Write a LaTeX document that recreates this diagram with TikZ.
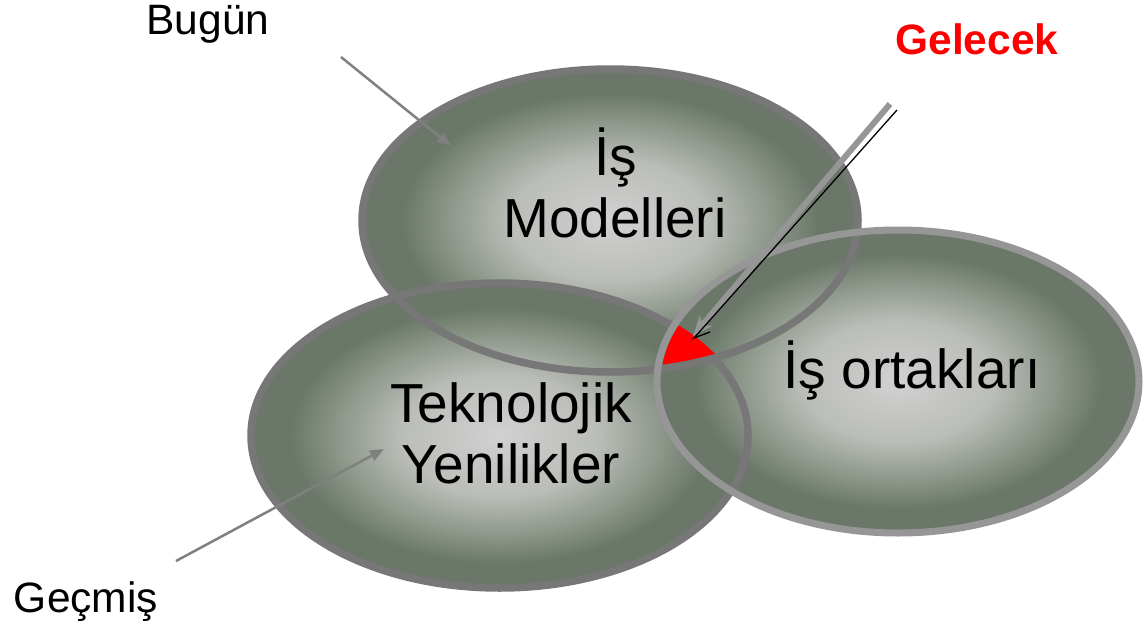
\documentclass[tikz,border=0pt]{standalone}
\usepackage{fontspec}
\setmainfont{Liberation Sans}
\usetikzlibrary{arrows.meta}
\definecolor{edgeA}{RGB}{119,119,119}
\definecolor{edgeB}{RGB}{150,150,150}
\definecolor{lineg}{RGB}{128,128,128}
\pgfdeclareradialshading{ellshade}{\pgfpoint{0bp}{0bp}}{%
  rgb(0bp)=(0.82,0.82,0.82);
  rgb(10bp)=(0.73,0.74,0.72);
  rgb(16bp)=(0.56,0.60,0.55);
  rgb(21bp)=(0.42,0.47,0.41);
  rgb(50bp)=(0.42,0.47,0.41)}
\tikzset{
  ellfill/.style={shading=ellshade},
  bordA/.style={draw=edgeA, line width=7.5pt},
  bordB/.style={draw=edgeB, line width=7pt},
  bigtext/.style={font=\fontsize{55}{62}\selectfont, align=center, text=black},
  smalltext/.style={font=\fontsize{42.5}{48}\selectfont, anchor=base},
  pointer/.style={draw=lineg, line width=2.5pt, -{Triangle[length=14pt,width=11pt]}},
}
\begin{document}
\begin{tikzpicture}[x=1pt,y=-1pt]
\useasboundingbox (0,0) rectangle (1144,634);
% shadings
\shade[ellfill] (610,220.5) ellipse [x radius=248, y radius=151.5];
\shade[ellfill] (499.5,435.5) ellipse [x radius=248.5, y radius=152.5];
\shade[ellfill] (898,381.5) ellipse [x radius=241, y radius=151.5];
% borders
\draw[bordA] (610,220.5) ellipse [x radius=248, y radius=151.5];
\draw[bordA] (499.5,435.5) ellipse [x radius=248.5, y radius=152.5];
\draw[bordB] (898,381.5) ellipse [x radius=241, y radius=151.5];
% red triple intersection
\begin{scope}
  \clip (610,220.5) ellipse [x radius=244, y radius=147.5];
  \clip (898,381.5) ellipse [x radius=237, y radius=147.5];
  \fill[red] (499.5,435.5) ellipse [x radius=252.5, y radius=156.5];
\end{scope}
% ellipse texts
\node[bigtext, anchor=base] (im1) at (616,175) {İş};
\node[bigtext, anchor=base] (im2) at (615,237) {Modelleri};
\node[bigtext, anchor=base] (tk1) at (511,422) {Teknolojik};
\node[bigtext, anchor=base] (tk2) at (511,483) {Yenilikler};
\node[bigtext, anchor=base] (io) at (912,388) {İş ortakları};
% labels
\node[smalltext] (bugun) at (208,35) {Bugün};
\node[smalltext] (gecmis) at (86,612) {Geçmiş};
\node[smalltext, text=red, font=\fontsize{42.5}{48}\selectfont\bfseries] (gelecek) at (977,55) {Gelecek};
% connector ends
\coordinate (bs) at (341,57);
\coordinate (be) at (451,146);
\coordinate (gs) at (176,561);
\coordinate (ge) at (384,449);
\coordinate (fs) at (890,104);
\coordinate (fe) at (693,336);
\coordinate (ks) at (897,110);
\coordinate (ke) at (694,338);
\draw[pointer] (bs) -- (be);
\draw[pointer] (gs) -- (ge);
\draw[draw=edgeB, line width=6pt, -{Stealth[length=20pt,width=16pt,inset=6pt]}] (fs) -- (fe);
\draw[black, line width=1.3pt] (ks) -- (ke) -- ++(16,-6);
\end{tikzpicture}
\end{document}
